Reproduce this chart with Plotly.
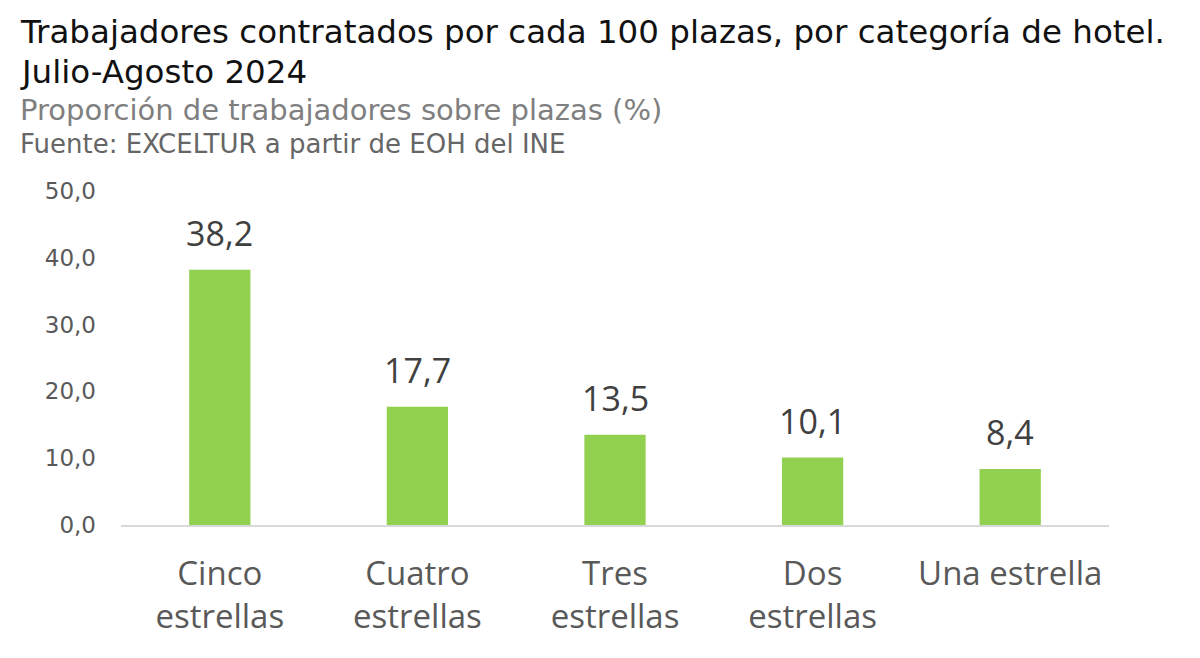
import plotly.graph_objects as go

categories = ["Cinco<br>estrellas", "Cuatro<br>estrellas", "Tres<br>estrellas", "Dos<br>estrellas", "Una estrella"]
values = [38.2, 17.7, 13.5, 10.1, 8.4]
tick_vals = [0, 10, 20, 30, 40, 50]

W, H = 1200, 658
OFF = 8  # page body margin offset
L, R, T, B = 113, 99, 183, 141
pw = W - L - R
ph = H - T - B

def px_x(xs):
    return (xs - OFF - L) / pw

def px_y(ys):
    return (H - B - (ys - OFF)) / ph

FONT = "Open Sans"
HFONT = "DejaVu Sans"

fig = go.Figure(go.Bar(
    x=categories, y=values,
    marker=dict(color="#92D050", line=dict(width=0)),
    hoverinfo="x+y",
))

annotations = []
for c, v in zip(categories, values):
    annotations.append(dict(
        x=c, y=v, xref="x", yref="y", text=f"{v:.1f}".replace(".", ","),
        showarrow=False, yanchor="bottom", yshift=12,
        font=dict(size=34, color="#404040", family=FONT)))

def head(text, ys_top, size, color):
    return dict(text=text, xref="paper", yref="paper", x=px_x(18), y=px_y(ys_top),
                xanchor="left", yanchor="top", align="left", showarrow=False,
                font=dict(size=size, color=color, family=HFONT))

annotations += [
    head("Trabajadores contratados por cada 100 plazas, por categoría de hotel.", 11, 32.5, "#111111"),
    head("Julio-Agosto 2024", 51, 32.5, "#111111"),
    head("Proporción de trabajadores sobre plazas (%)", 91, 29, "#7F7F7F"),
    head("Fuente: EXCELTUR a partir de EOH del INE", 126.5, 26, "#666666"),
]

fig.update_layout(
    width=W, height=H,
    margin=dict(l=L, r=R, t=T, b=B),
    paper_bgcolor="white", plot_bgcolor="white",
    separators=",.",
    bargap=0.69,
    showlegend=False,
    font=dict(family=FONT),
    xaxis=dict(showline=True, linecolor="#D9D9D9", linewidth=2, ticks="",
               tickfont=dict(size=33, color="#595959", family=FONT),
               showgrid=False, ticklabelstandoff=18),
    yaxis=dict(range=[0, 50], tickvals=tick_vals, tickformat=".1f",
               showgrid=False, zeroline=False, showline=False,
               tickfont=dict(size=23, color="#595959", family=HFONT),
               ticklabelstandoff=24),
    annotations=annotations,
)

fig.write_html("out.html")
